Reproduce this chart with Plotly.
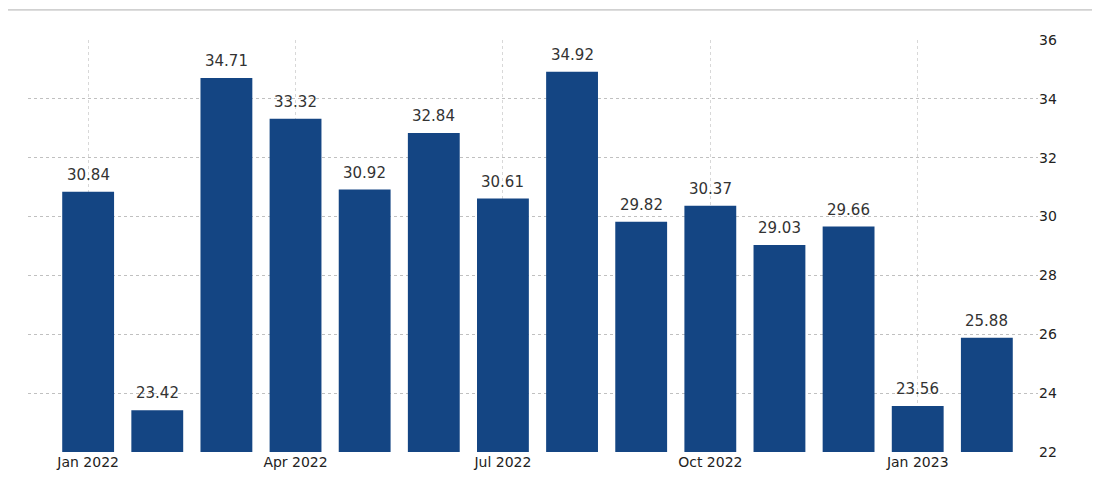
import plotly.graph_objects as go

months = ["Jan 2022","Feb 2022","Mar 2022","Apr 2022","May 2022","Jun 2022","Jul 2022",
          "Aug 2022","Sep 2022","Oct 2022","Nov 2022","Dec 2022","Jan 2023","Feb 2023"]
values = [30.84,23.42,34.71,33.32,30.92,32.84,30.61,34.92,29.82,30.37,29.03,29.66,23.56,25.88]
tick_labels = ["Jan 2022","Apr 2022","Jul 2022","Oct 2022","Jan 2023"]
y_ticks = [22,24,26,28,30,32,34,36]

fig = go.Figure(go.Bar(
    x=months, y=values, marker_color="#144583", marker_line_width=0,
))
for m, v in zip(months, values):
    fig.add_annotation(x=m, y=v, text=f"{v:.2f}", showarrow=False, yanchor="bottom",
                       yshift=6, font=dict(family="DejaVu Sans", size=15, color="#333333"))
fig.update_layout(
    width=1100, height=488, margin=dict(l=20, r=70, t=32, b=44),
    plot_bgcolor="white", paper_bgcolor="white", bargap=0.25, showlegend=False,
    font=dict(family="DejaVu Sans", size=14, color="#333333"),
    xaxis=dict(type="category", tickmode="array", tickvals=tick_labels, ticktext=tick_labels,
               range=[-0.87, 13.74], showgrid=True, gridcolor="#d8d8d8", griddash="dot",
               showline=False, ticks="", automargin=False,
               tickfont=dict(size=14, color="#222222")),
    yaxis=dict(side="right", range=[22, 36], tickvals=y_ticks, showgrid=True,
               gridcolor="#c0c0c0", griddash="dot", zeroline=False, ticks="", automargin=False,
               tickfont=dict(size=14, color="#222222")),
    shapes=[dict(type="line", xref="paper", yref="paper", x0=-0.02, x1=1.07, y0=1.073, y1=1.073,
                 line=dict(color="#b0b0b0", width=1))],
)
fig.write_html("out.html")
